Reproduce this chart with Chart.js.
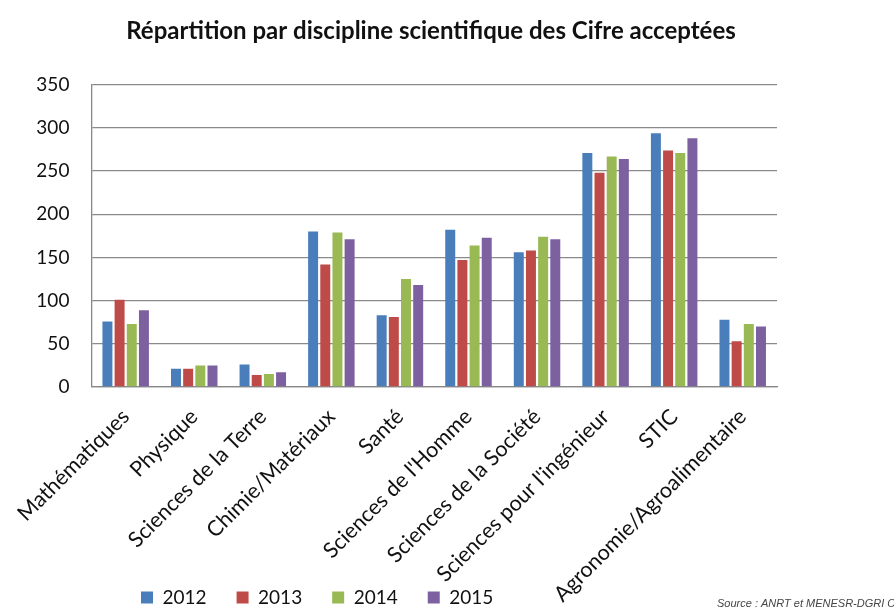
<!DOCTYPE html>
<html>
<head>
<meta charset="utf-8">
<script src="https://cdn.jsdelivr.net/npm/chart.js@4.4.0/dist/chart.umd.min.js"></script>
<style>
  body { margin: 0; background: #fff; }
</style>
</head>
<body>
<canvas id="myChart" width="894" height="612"></canvas>
<script>
let disciplines = ['Mathématiques', 'Physique', 'Sciences de la Terre', 'Chimie/Matériaux', 'Santé',
  "Sciences de l'Homme", 'Sciences de la Société', "Sciences pour l'ingénieur", 'STIC', 'Agronomie/Agroalimentaire'];
let years = ['2012', '2013', '2014', '2015'];
let values2012 = [76, 21, 26, 180, 83, 182, 156, 271, 294, 78];
let values2013 = [101, 21, 14, 142, 81, 147, 158, 248, 274, 53];
let values2014 = [73, 25, 15, 179, 125, 164, 174, 267, 271, 73];
let values2015 = [89, 25, 17, 171, 118, 173, 171, 264, 288, 70];
let colors = ['#4A7EBB', '#BE4B48', '#98B954', '#7D60A0'];
let yMax = 350, yStep = 50;

Chart.defaults.font.family = 'Lato, "Open Sans", sans-serif';
Chart.defaults.color = '#111';

// puts title / legend where the original has them, and writes the source line
let placeBlocks = {
  id: 'placeBlocks',
  afterLayout(chart) {
    chart.titleBlock.left = 0;
    chart.titleBlock.right = 862;
    chart.legend.left = 111;
    chart.legend.top = 558;
    chart.scales.x.bottom = 612; // long rotated labels run down past the legend line
  },
  afterDraw(chart) {
    let ctx = chart.ctx;
    ctx.save();
    ctx.font = 'italic 11px "Liberation Sans", Arial, sans-serif';
    ctx.fillStyle = '#444';
    ctx.textBaseline = 'middle';
    ctx.fillText('Source : ANRT et MENESR-DGRI C2', 717, 604);
    ctx.restore();
  }
};

let series = [values2012, values2013, values2014, values2015];

let myChart = new Chart(document.getElementById('myChart').getContext('2d'), {
  type: 'bar',
  data: {
    labels: disciplines,
    datasets: years.map((y, i) => ({
      label: y,
      data: series[i],
      backgroundColor: colors[i],
      borderWidth: 0,
      barPercentage: 0.82,
      categoryPercentage: 0.71
    }))
  },
  options: {
    responsive: false,
    animation: false,
    layout: { padding: { left: 0, right: 117, top: 0, bottom: 0 } },
    plugins: {
      title: {
        display: true,
        text: 'Répartition par discipline scientifique des Cifre acceptées',
        font: { size: 24, weight: 'bold' },
        color: '#111',
        padding: { top: 17, bottom: 39 }
      },
      legend: {
        position: 'bottom',
        align: 'start',
        labels: { boxWidth: 12, boxHeight: 12, padding: 30, font: { size: 19 }, color: '#111' }
      },
      tooltip: { enabled: false }
    },
    scales: {
      x: {
        grid: { display: false, drawTicks: false },
        border: { display: true, color: '#888', width: 1.3 },
        ticks: { maxRotation: 45, minRotation: 45, autoSkip: false, padding: 17, font: { size: 21.5 }, color: '#111' },
        afterFit(scale) { scale.height = 166; }
      },
      y: {
        min: 0,
        max: yMax,
        ticks: { stepSize: yStep, padding: 22, font: { size: 19 }, color: '#111' },
        grid: { color: '#8a8a8a', lineWidth: 1.3, drawTicks: false },
        border: { display: true, color: '#888', width: 1.3 },
        afterFit(scale) { scale.width = 89; }
      }
    }
  },
  plugins: [placeBlocks]
});
</script>
</body>
</html>
